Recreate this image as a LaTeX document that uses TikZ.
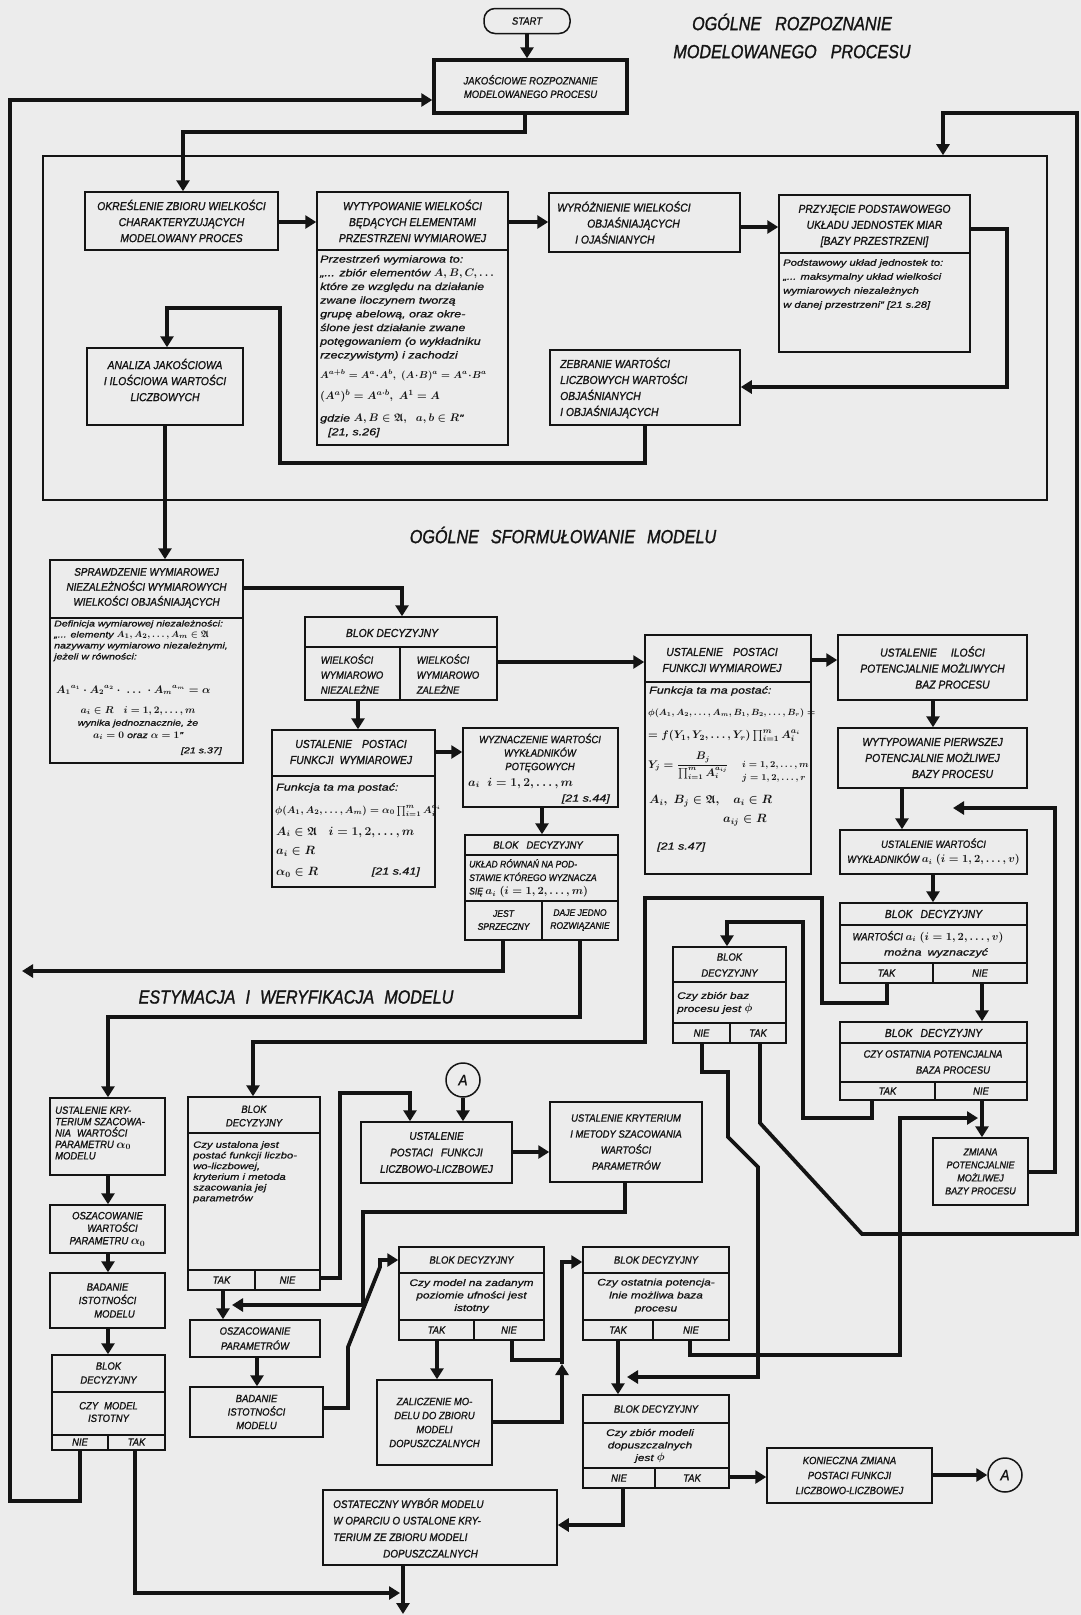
\documentclass[tikz,border=0pt]{standalone}
\usepackage{fontspec}
\usepackage{amsmath,amssymb}
\setmainfont{Liberation Sans}
\newfontfamily\capf{Liberation Sans}[FakeStretch=0.9,FakeBold=1.2]
\newfontfamily\bodf{Liberation Sans}[FakeStretch=1.25,FakeBold=1]
\newfontfamily\titf{Liberation Sans}[FakeStretch=0.85,FakeBold=1.2]
\usetikzlibrary{arrows.meta}
\definecolor{paper}{RGB}{236,236,236}
\definecolor{ink}{RGB}{20,20,20}
\newcommand\mm[2][12]{{\fontsize{#1}{#1}\selectfont\boldmath$#2$}}
\tikzset{
 bx/.style={draw=ink,line width=1.5pt,inner sep=0pt,rectangle},
 sepl/.style={draw=ink,line width=1.3pt},
 con/.style={draw=ink,line width=3.8pt},
 arr/.style={con,-{Triangle[length=11pt,width=13pt]}},
 ctx/.style={inner sep=0pt,align=center,text=ink,font=\capf\itshape\fontsize{11.5}{16}\selectfont},
 ctxl/.style={ctx,align=left},
 sctx/.style={ctx,font=\capf\itshape\fontsize{10.5}{13.5}\selectfont},
 bod/.style={inner sep=0pt,align=left,text=ink,font=\bodf\itshape\fontsize{10}{13.7}\selectfont},
 bods/.style={bod,font=\bodf\itshape\fontsize{8.5}{11}\selectfont},
 ttl/.style={inner sep=0pt,align=center,text=ink,font=\titf\itshape\fontsize{19}{28}\selectfont},
}
\newcommand\bx[7][]{\node[bx,#1,minimum width={(#5-#3)*1pt},minimum height={(#6-#4)*1pt}] (#2) at ({(#3+#5)/2},{(#4+#6)/2}) {#7};}
\newcommand\hsep[2]{\draw[sepl] (#1.west |- 0,#2) -- (#1.east |- 0,#2);}
\newcommand\vsep[3]{\draw[sepl] (#2,#3) -- (#1.south -| #2,0);}
\begin{document}
\begin{tikzpicture}[x=1pt,y=-1pt]
\fill[paper] (0,0) rectangle (1081,1615);
\useasboundingbox (0,0) rectangle (1081,1615);

% ---------- titles
\node[ttl] (t1) at (792,36) {OGÓLNE\hspace{14pt}ROZPOZNANIE\\MODELOWANEGO\hspace{14pt}PROCESU};
\node[ttl] (t2) at (563,535) {OGÓLNE\hspace{12pt}SFORMUŁOWANIE\hspace{12pt}MODELU};
\node[ttl] (t3) at (296,997) {ESTYMACJA\hspace{10pt}I\hspace{10pt}WERYFIKACJA\hspace{10pt}MODELU};

% ---------- frame
\bx[line width=1.6pt]{frame}{43}{156}{1047}{500}{}

% ---------- stage 1
\node[bx,rounded corners=11pt,minimum width=86pt,minimum height=25pt,sctx] (start) at (527,21) {START};
\bx[line width=3.4pt,sctx]{jak}{434}{60}{627}{113}{JAKOŚCIOWE ROZPOZNANIE\\MODELOWANEGO PROCESU}
\bx[ctx]{okr}{85}{192}{278}{250}{OKREŚLENIE ZBIORU WIELKOŚCI\\CHARAKTERYZUJĄCYCH\\MODELOWANY PROCES}
\bx{wyt}{317}{192}{508}{445}{}
\hsep{wyt}{250}
\node[ctx] (wyt-h) at (412.5,221) {WYTYPOWANIE WIELKOŚCI\\BĘDĄCYCH ELEMENTAMI\\PRZESTRZENI WYMIAROWEJ};
\node[bod,anchor=north west] (wyt-b) at (320,255) {Przestrzeń wymiarowa to:\\
„... zbiór elementów \mm[10.5]{A,B,C,\ldots}\\
które ze względu na działanie\\
zwane iloczynem tworzą\\
grupę abelową, oraz okre-\\
ślone jest działanie zwane\\
potęgowaniem (o wykładniku\\
rzeczywistym) i zachodzi\\[6pt]
\mm[10.3]{A^{a+b}=A^a\!\cdot\! A^b,\;(A\!\cdot\! B)^a=A^a\!\cdot\! B^a}\\[8pt]
\mm[11]{(A^a)^b=A^{a\cdot b},\;A^1=A}\\[8pt]
gdzie \mm[11]{A,B\in\mathfrak{A},\;\;a,b\in R}”\\
\hspace*{8pt}[21, s.26]};
\bx{wyr}{549}{193}{740}{252}{}
\node[ctxl,anchor=west] (wyr-t) at (557,222.5) {WYRÓŻNIENIE WIELKOŚCI\\\hspace*{30pt}OBJAŚNIAJĄCYCH\\\hspace*{18pt}I OJAŚNIANYCH};
\bx{prz}{779}{195}{970}{352}{}
\hsep{prz}{253}
\node[ctx] (prz-h) at (874.5,226) {PRZYJĘCIE PODSTAWOWEGO\\UKŁADU JEDNOSTEK MIAR\\{[}BAZY PRZESTRZENI{]}};
\node[bod,anchor=north west,font=\bodf\itshape\fontsize{9}{14}\selectfont] (prz-b) at (783,259) {Podstawowy układ jednostek to:\\„... maksymalny układ wielkości\\wymiarowych niezależnych\\w danej przestrzeni” [21 s.28]};
\bx{anl}{87}{348}{243}{425}{}
\node[ctx] (anl-t) at (165,380) {ANALIZA JAKOŚCIOWA\\I ILOŚCIOWA WARTOŚCI\\LICZBOWYCH};
\bx{zeb}{550}{350}{740}{425}{}
\node[ctxl,anchor=west] (zeb-t) at (560,388) {ZEBRANIE WARTOŚCI\\LICZBOWYCH WARTOŚCI\\OBJAŚNIANYCH\\I OBJAŚNIAJĄCYCH};

% ---------- stage 2
\bx{spr}{50}{560}{243}{763}{}
\hsep{spr}{618}
\node[ctx,font=\capf\itshape\fontsize{11}{15}\selectfont] (spr-h) at (146.5,588) {SPRAWDZENIE WYMIAROWEJ\\NIEZALEŻNOŚCI WYMIAROWYCH\\WIELKOŚCI OBJAŚNIAJĄCYCH};
\node[bods,anchor=north west] (spr-b) at (54,620) {Definicja wymiarowej niezależności:\\„... elementy \mm[9.5]{A_1,A_2,\ldots,A_m\in\mathfrak{A}}\\nazywamy wymiarowo niezależnymi,\\jeżeli w równości:};
\node[bods,anchor=west] (spr-m) at (56,690) {\mm[10.5]{{A_1}^{a_1}\cdot {A_2}^{a_2}\cdot\;\ldots\;\cdot {A_m}^{a_m}=\alpha}};
\node[bods,align=center,font=\bodf\itshape\fontsize{8.5}{12.3}\selectfont] (spr-c) at (138,723) {\mm[10]{a_i\in R\quad i=1,2,\ldots,m}\\wynika jednoznacznie, że\\\mm[10]{a_i=0} oraz \mm[10]{\alpha=1}”};
\node[bods,anchor=east] (spr-r) at (222,751) {[21 s.37]};

\bx{bd1}{305}{617}{497}{700}{}
\hsep{bd1}{647}
\vsep{bd1}{400}{647}
\node[ctx] (bd1-h) at (392,633) {BLOK DECYZYJNY};
\node[ctxl,font=\capf\itshape\fontsize{10.5}{15}\selectfont] (bd1-l) at (352,674) {WIELKOŚCI\\WYMIAROWO\\NIEZALEŻNE};
\node[ctxl,font=\capf\itshape\fontsize{10.5}{15}\selectfont] (bd1-r) at (448,674) {WIELKOŚCI\\WYMIAROWO\\ZALEŻNE};

\bx{uf1}{272}{730}{435}{887}{}
\hsep{uf1}{776}
\node[ctx] (uf1-h) at (351,752) {USTALENIE\hspace{10pt}POSTACI\\FUNKCJI\hspace{6pt}WYMIAROWEJ};
\node[bod,anchor=west] (uf1-1) at (276,788) {Funkcja ta ma postać:};
\node[bod,anchor=west] (uf1-2) at (275,811) {\mm[9.8]{\phi(A_1,A_2,\ldots,A_m)=\alpha_0\prod_{i=1}^{m}A_i^{a_i}}};
\node[bod,anchor=west] (uf1-3) at (276,832) {\mm[11.5]{A_i\in\mathfrak{A}\quad i=1,2,\ldots,m}};
\node[bod,anchor=west] (uf1-4) at (276,851) {\mm[11.5]{a_i\in R}};
\node[bod,anchor=west] (uf1-5) at (276,872) {\mm[11.5]{\alpha_0\in R}};
\node[bod,anchor=east] (uf1-6) at (420,872) {[21 s.41]};

\bx{wyz}{463}{728}{618}{807}{}
\node[ctx,font=\capf\itshape\fontsize{10.5}{13.5}\selectfont] (wyz-h) at (540,753) {WYZNACZENIE WARTOŚCI\\WYKŁADNIKÓW\\POTĘGOWYCH};
\node[bod,anchor=west] (wyz-1) at (468,783) {\mm[11.5]{a_i\;\;i=1,2,\ldots,m}};
\node[bod,anchor=east] (wyz-2) at (610,799) {[21 s.44]};

\bx{bd2}{465}{835}{618}{940}{}
\hsep{bd2}{855}
\hsep{bd2}{901}
\vsep{bd2}{542}{901}
\node[ctx,font=\capf\itshape\fontsize{10.5}{13.5}\selectfont] (bd2-h) at (538,845) {BLOK\hspace{8pt}DECYZYJNY};
\node[ctxl,anchor=north west,font=\capf\itshape\fontsize{9.5}{13.5}\selectfont] (bd2-b) at (469,859) {UKŁAD RÓWNAŃ NA POD-\\STAWIE KTÓREGO WYZNACZA\\SIĘ \mm[10.5]{a_i\;(i=1,2,\ldots,m)}};
\node[ctx,font=\capf\itshape\fontsize{9.5}{13}\selectfont] (bd2-l) at (503.5,920) {JEST\\SPRZECZNY};
\node[ctx,font=\capf\itshape\fontsize{9.5}{13}\selectfont] (bd2-r) at (580,920) {DAJE JEDNO\\ROZWIĄZANIE};

\bx{uf2}{645}{635}{811}{874}{}
\hsep{uf2}{682}
\node[ctx] (uf2-h) at (722,660) {USTALENIE\hspace{10pt}POSTACI\\FUNKCJI WYMIAROWEJ};
\node[bod,anchor=west] (uf2-1) at (649,691) {Funkcja ta ma postać:};
\node[bod,anchor=west] (uf2-2) at (648,713) {\mm[8.8]{\phi(A_1,A_2,\ldots,A_m,B_1,B_2,\ldots,B_r)=}};
\node[bod,anchor=west] (uf2-3) at (648,736) {\mm[10.8]{=f(Y_1,Y_2,\ldots,Y_r)\prod_{i=1}^{m}A_i^{a_i}}};
\node[bod,anchor=west] (uf2-4) at (648,766) {\mm[10.5]{Y_j=\dfrac{B_j}{\prod_{i=1}^{m}A_i^{a_{ij}}}}};
\node[bod,anchor=west,font=\bodf\itshape\fontsize{9}{13}\selectfont] (uf2-5) at (742,772) {\mm[9.5]{i=1,2,\ldots,m}\\\mm[9.5]{j=1,2,\ldots,r}};
\node[bod,anchor=west] (uf2-6) at (649,801) {\mm[11.5]{A_i,\ B_j\in\mathfrak{A},\quad a_i\in R}};
\node[bod,anchor=west] (uf2-7) at (723,820) {\mm[11.5]{a_{ij}\in R}};
\node[bod,anchor=west] (uf2-8) at (657,847) {[21 s.47]};

\bx[ctx]{uil}{838}{635}{1027}{700}{USTALENIE\hspace{14pt}ILOŚCI\\POTENCJALNIE MOŻLIWYCH\\\hspace*{40pt}BAZ PROCESU}
\bx[ctx]{wpb}{838}{728}{1027}{788}{WYTYPOWANIE PIERWSZEJ\\POTENCJALNIE MOŻLIWEJ\\\hspace*{40pt}BAZY PROCESU}
\bx[ctx,font=\capf\itshape\fontsize{10.5}{15}\selectfont]{uwa}{840}{830}{1027}{874}{USTALENIE WARTOŚCI\\WYKŁADNIKÓW \mm[10.5]{a_i\;(i=1,2,\ldots,v)}}

\bx{bd3}{840}{903}{1027}{983}{}
\hsep{bd3}{925}
\hsep{bd3}{963}
\vsep{bd3}{933}{963}
\node[ctx] (bd3-h) at (933.5,914) {BLOK\hspace{8pt}DECYZYJNY};
\node[ctx,font=\capf\itshape\fontsize{10.5}{13}\selectfont] (bd3-1) at (928,937) {WARTOŚCI \mm[10.5]{a_i\;(i=1,2,\ldots,v)}};
\node[bod] (bd3-2) at (936,953) {można\hspace{6pt}wyznaczyć};
\node[sctx] (bd3-l) at (886.5,973) {TAK};
\node[sctx] (bd3-r) at (980,973) {NIE};

\bx{bd4}{673}{947}{786}{1043}{}
\hsep{bd4}{982}
\hsep{bd4}{1023}
\vsep{bd4}{730}{1023}
\node[ctx,font=\capf\itshape\fontsize{10.5}{16}\selectfont] (bd4-h) at (729.5,965) {BLOK\\DECYZYJNY};
\node[bod,anchor=west,font=\bodf\itshape\fontsize{9.5}{13}\selectfont] (bd4-b) at (677,1003) {Czy zbiór baz\\procesu jest \mm[11]{\phi}};
\node[sctx] (bd4-l) at (701.5,1033) {NIE};
\node[sctx] (bd4-r) at (758,1033) {TAK};

\bx{bd5}{840}{1022}{1027}{1100}{}
\hsep{bd5}{1043}
\hsep{bd5}{1082}
\vsep{bd5}{935}{1082}
\node[ctx] (bd5-h) at (933.5,1033) {BLOK\hspace{8pt}DECYZYJNY};
\node[ctx,font=\capf\itshape\fontsize{10.5}{16}\selectfont] (bd5-b) at (933,1062) {CZY OSTATNIA POTENCJALNA\\\hspace*{40pt}BAZA PROCESU};
\node[sctx] (bd5-l) at (887.5,1091) {TAK};
\node[sctx] (bd5-r) at (981,1091) {NIE};

\bx[ctx,font=\capf\itshape\fontsize{10}{13}\selectfont]{zmi}{933}{1138}{1028}{1205}{ZMIANA\\POTENCJALNIE\\MOŻLIWEJ\\BAZY PROCESU}

% ---------- stage 3
\bx{uka}{50}{1098}{165}{1175}{}
\node[ctxl,anchor=west,font=\capf\itshape\fontsize{10.5}{11.4}\selectfont] (uka-t) at (55,1133) {USTALENIE KRY-\\TERIUM SZACOWA-\\NIA\hspace{6pt}WARTOŚCI\\PARAMETRU \mm[12]{\alpha_0}\\MODELU};
\bx[ctx,font=\capf\itshape\fontsize{10.5}{12.5}\selectfont]{osz}{50}{1205}{165}{1253}{OSZACOWANIE\\\hspace*{10pt}WARTOŚCI\\PARAMETRU \mm[12]{\alpha_0}}
\bx[ctx,font=\capf\itshape\fontsize{10.5}{13.5}\selectfont]{bad1}{50}{1273}{165}{1328}{BADANIE\\ISTOTNOŚCI\\\hspace*{14pt}MODELU}
\bx{bd6}{52}{1355}{165}{1450}{}
\hsep{bd6}{1392}
\hsep{bd6}{1435}
\vsep{bd6}{108}{1435}
\node[ctx,font=\capf\itshape\fontsize{10.5}{14}\selectfont] (bd6-h) at (108.5,1373) {BLOK\\DECYZYJNY};
\node[ctx,font=\capf\itshape\fontsize{10.5}{12.5}\selectfont] (bd6-b) at (108.5,1412) {CZY\hspace{6pt}MODEL\\ISTOTNY};
\node[sctx] (bd6-l) at (80,1442) {NIE};
\node[sctx] (bd6-r) at (136.5,1442) {TAK};

\bx{bd7}{188}{1097}{320}{1290}{}
\hsep{bd7}{1133}
\hsep{bd7}{1270}
\vsep{bd7}{255}{1270}
\node[ctx,font=\capf\itshape\fontsize{10.5}{13.5}\selectfont] (bd7-h) at (254,1116) {BLOK\\DECYZYJNY};
\node[bod,anchor=north west,font=\bodf\itshape\fontsize{9}{10.7}\selectfont] (bd7-b) at (193,1141) {Czy ustalona jest\\postać funkcji liczbo-\\wo-liczbowej,\\kryterium i metoda\\szacowania jej\\parametrów};
\node[sctx] (bd7-l) at (221.5,1280) {TAK};
\node[sctx] (bd7-r) at (287.5,1280) {NIE};

\node[draw=ink,circle,line width=1.5pt,minimum size=34pt,inner sep=0pt,ctx,font=\capf\itshape\fontsize{15}{15}\selectfont] (A1) at (463,1080) {A};
\bx[ctx,font=\capf\itshape\fontsize{11}{16.5}\selectfont]{upl}{361}{1122}{512}{1183}{USTALENIE\\POSTACI\hspace{8pt}FUNKCJI\\LICZBOWO-LICZBOWEJ}
\bx[ctx,font=\capf\itshape\fontsize{10.5}{16}\selectfont]{ukm}{550}{1102}{702}{1182}{USTALENIE KRYTERIUM\\I METODY SZACOWANIA\\WARTOŚCI\\PARAMETRÓW}
\bx[ctx,font=\capf\itshape\fontsize{10.5}{15}\selectfont]{ozp}{190}{1320}{320}{1357}{OSZACOWANIE\\PARAMETRÓW}
\bx[ctx,font=\capf\itshape\fontsize{10.5}{13.5}\selectfont]{bad2}{190}{1387}{323}{1437}{BADANIE\\ISTOTNOŚCI\\MODELU}

\bx{bd8}{399}{1247}{544}{1340}{}
\hsep{bd8}{1273}
\hsep{bd8}{1320}
\vsep{bd8}{474}{1320}
\node[ctx,font=\capf\itshape\fontsize{10.5}{13}\selectfont] (bd8-h) at (471.5,1260) {BLOK DECYZYJNY};
\node[bod,align=center,font=\bodf\itshape\fontsize{9.5}{12.5}\selectfont] (bd8-b) at (471.5,1296) {Czy model na zadanym\\poziomie ufności jest\\istotny};
\node[sctx] (bd8-l) at (436.5,1330) {TAK};
\node[sctx] (bd8-r) at (509,1330) {NIE};

\bx[ctx,font=\capf\itshape\fontsize{10.5}{14}\selectfont]{zal}{377}{1380}{492}{1465}{ZALICZENIE MO-\\DELU DO ZBIORU\\MODELI\\DOPUSZCZALNYCH}

\bx{bd9}{583}{1247}{729}{1340}{}
\hsep{bd9}{1273}
\hsep{bd9}{1320}
\vsep{bd9}{653}{1320}
\node[ctx,font=\capf\itshape\fontsize{10.5}{13}\selectfont] (bd9-h) at (656,1260) {BLOK DECYZYJNY};
\node[bod,align=center,font=\bodf\itshape\fontsize{9.5}{13}\selectfont] (bd9-b) at (656,1296) {Czy ostatnia potencja-\\lnie możliwa baza\\procesu};
\node[sctx] (bd9-l) at (618,1330) {TAK};
\node[sctx] (bd9-r) at (691,1330) {NIE};

\bx{bd10}{583}{1395}{729}{1488}{}
\hsep{bd10}{1423}
\hsep{bd10}{1468}
\vsep{bd10}{655}{1468}
\node[ctx,font=\capf\itshape\fontsize{10.5}{13}\selectfont] (bd10-h) at (656,1409) {BLOK DECYZYJNY};
\node[bod,align=center,font=\bodf\itshape\fontsize{9.5}{12.5}\selectfont] (bd10-b) at (650,1446) {Czy zbiór modeli\\dopuszczalnych\\jest \mm[11]{\phi}};
\node[sctx] (bd10-l) at (619,1478) {NIE};
\node[sctx] (bd10-r) at (692,1478) {TAK};

\bx{ost}{323}{1490}{557}{1565}{}
\node[ctxl,anchor=west,font=\capf\itshape\fontsize{11}{16.5}\selectfont] (ost-t) at (333,1528) {OSTATECZNY WYBÓR MODELU\\W OPARCIU O USTALONE KRY-\\TERIUM ZE ZBIORU MODELI\\\hspace*{50pt}DOPUSZCZALNYCH};
\bx[ctx,font=\capf\itshape\fontsize{10.5}{15}\selectfont]{kon}{767}{1448}{932}{1503}{KONIECZNA ZMIANA\\POSTACI FUNKCJI\\LICZBOWO-LICZBOWEJ}
\node[draw=ink,circle,line width=1.5pt,minimum size=34pt,inner sep=0pt,ctx,font=\capf\itshape\fontsize{15}{15}\selectfont] (A2) at (1005,1475) {A};

% ---------- connectors
\draw[arr] (start.south) -- (jak.north -| start.south);
\draw[arr] (jak.south -| 525,0) -- (525,132) -- (183,132) -- (okr.north -| 183,0);
\draw[arr] (okr.east |- 0,222) -- (wyt.west |- 0,222);
\draw[arr] (wyt.east |- 0,222) -- (wyr.west |- 0,222);
\draw[arr] (wyr.east |- 0,227) -- (prz.west |- 0,227);
\draw[arr] (prz.east |- 0,229) -- (1007,229) -- (1007,387) -- (zeb.east |- 0,387);
\draw[arr] (zeb.south -| 645,0) -- (645,463) -- (280,463) -- (280,308) -- (167,308) -- (anl.north -| 167,0);
\draw[arr] (anl.south -| 165,0) -- (spr.north -| 165,0);
\draw[arr] (spr.east |- 0,588) -- (402,588) -- (bd1.north -| 402,0);
\draw[arr] (bd1.south -| 358,0) -- (uf1.north -| 358,0);
\draw[arr] (bd1.east |- 0,662) -- (uf2.west |- 0,662);
\draw[arr] (uf1.east |- 0,752) -- (wyz.west |- 0,752);
\draw[arr] (wyz.south -| 542,0) -- (bd2.north -| 542,0);
\draw[arr] (uf2.east |- 0,660) -- (uil.west |- 0,660);
\draw[arr] (uil.south -| 933,0) -- (wpb.north -| 933,0);
\draw[arr] (wpb.south -| 902,0) -- (uwa.north -| 902,0);
\draw[arr] (uwa.south -| 933,0) -- (bd3.north -| 933,0);
\draw[arr] (bd3.south -| 982,0) -- (bd5.north -| 982,0);
\draw[arr] (bd5.south -| 872,0) -- (872,1118) -- (803,1118) -- (803,922) -- (727,922) -- (bd4.north -| 727,0);
\draw[arr] (bd5.south -| 982,0) -- (zmi.north -| 982,0);
\coordinate (m808) at (953,808);
\draw[arr] (zmi.east |- 0,1172) -- (1055,1172) -- (1055,808) -- (m808);
\draw[arr] (bd3.south -| 887,0) -- (887,1003) -- (822,1003) -- (822,898) -- (645,898) -- (645,1042) -- (253,1042) -- (bd7.north -| 253,0);
\coordinate (lft) at (22,971);
\draw[arr] (bd2.south -| 503,0) -- (503,971) -- (lft);
\draw[arr] (bd2.south -| 580,0) -- (580,1017) -- (108,1017) -- (uka.north -| 108,0);
\draw[arr] (uka.south -| 108,0) -- (osz.north -| 108,0);
\draw[arr] (osz.south -| 108,0) -- (bad1.north -| 108,0);
\draw[arr] (bad1.south -| 108,0) -- (bd6.north -| 108,0);
\draw[arr] (bd6.south -| 80,0) -- (80,1501) -- (10,1501) -- (10,100) -- (jak.west |- 0,100);
\coordinate (fin) at (400,1593);
\draw[arr] (bd6.south -| 135,0) -- (135,1593) -- (fin);
\draw[arr] (bd7.east |- 0,1278) -- (340,1278) -- (340,1093) -- (410,1093) -- (upl.north -| 410,0);
\draw[arr] (A1.south) -- (upl.north -| A1.south);
\draw[arr] (upl.east |- 0,1152) -- (ukm.west |- 0,1152);
\coordinate (m1305) at (232,1305);
\draw[arr] (ukm.south -| 625,0) -- (625,1212) -- (363,1212) -- (363,1305) -- (m1305);
\draw[arr] (bd7.south -| 223,0) -- (ozp.north -| 223,0);
\draw[arr] (ozp.south -| 257,0) -- (bad2.north -| 257,0);
\draw[arr] (bad2.east |- 0,1408) -- (348,1408) -- (348,1347) -- (380,1267) -- (380,1260) -- (bd8.west |- 0,1260);
\draw[arr] (bd8.south -| 437,0) -- (zal.north -| 437,0);
\draw[con] (bd8.south -| 512,0) -- (512,1360) -- (562,1360);
\coordinate (up1) at (562,1364);
\draw[arr] (zal.east |- 0,1422) -- (562,1422) -- (up1);
\draw[arr] (up1) -- (562,1262) -- (bd9.west |- 0,1262);
\draw[arr] (bd9.south -| 618,0) -- (bd10.north -| 618,0);
\coordinate (m1118) at (978,1118);
\draw[arr] (bd9.south -| 690,0) -- (690,1355) -- (900,1355) -- (900,1118) -- (m1118);
\coordinate (m1377) at (627,1377);
\draw[arr] (bd4.south -| 702,0) -- (702,1072) -- (728,1072) -- (728,1137) -- (758,1167) -- (758,1377) -- (m1377);
\draw[arr] (bd4.south -| 760,0) -- (760,1123) -- (862,1234) -- (1077,1234) -- (1077,113) -- (943,113) -- (frame.north -| 943,0);
\draw[arr] (bd10.south -| 623,0) -- (623,1525) -- (ost.east |- 0,1525);
\draw[arr] (bd10.east |- 0,1477) -- (kon.west |- 0,1477);
\draw[arr] (kon.east |- 0,1475) -- (A2.west);
\coordinate (bot) at (403,1614);
\draw[arr] (ost.south -| 403,0) -- (bot);
\end{tikzpicture}
\end{document}
